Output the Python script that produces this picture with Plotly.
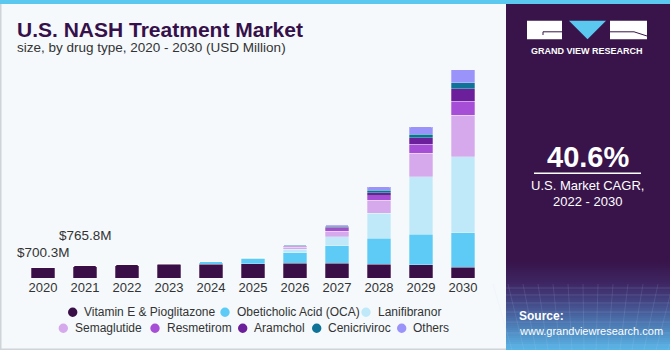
import plotly.graph_objects as go

# ---------------- data ----------------
years = ["2020", "2021", "2022", "2023", "2024", "2025", "2026", "2027", "2028", "2029", "2030"]
vitamin_e = [700.3, 765.8, 830, 880, 875, 910, 935, 940, 890, 830, 680]
oca = [0, 0, 0, 50, 145, 320, 675, 1110, 1655, 1950, 2200]
lanifibranor = [0, 0, 0, 0, 10, 85, 215, 575, 1590, 3670, 4840]
semaglutide = [0, 0, 0, 0, 0, 0, 125, 360, 810, 1490, 2650]
resmetirom = [0, 0, 0, 0, 0, 0, 80, 150, 300, 590, 890]
aramchol = [0, 0, 0, 0, 0, 0, 40, 85, 200, 400, 785]
cenicriviroc = [0, 0, 0, 0, 0, 0, 20, 80, 130, 230, 405]
others = [0, 0, 0, 0, 0, 0, 20, 60, 230, 465, 830]

series_names = ["Vitamin E & Pioglitazone", "Obeticholic Acid (OCA)", "Lanifibranor",
                "Semaglutide", "Resmetirom", "Aramchol", "Cenicriviroc", "Others"]
series_values = [vitamin_e, oca, lanifibranor, semaglutide, resmetirom, aramchol, cenicriviroc, others]
series_colors = ["#3a0f48", "#5ecbf6", "#bfe9f9", "#d5a9eb", "#a64fd6", "#6b1f9b", "#0e7397", "#9a93fa"]

labels = ["$700.3M", "$765.8M"]
label_years = ["2020", "2021"]
label_values = [700.3, 765.8]
cagr_text = "40.6%"

# ---------------- geometry helpers ----------------
W, H = 670, 350
L, R, T, B = 22, 186, 60, 72
PW, PH = W - L - R, H - T - B


def px(x):
    return (x - L) / PW


def py(y):
    return (H - B - y) / PH


fig = go.Figure()
for name, vals, col in zip(series_names, series_values, series_colors):
    fig.add_trace(go.Bar(
        x=years, y=vals, name=name,
        marker=dict(color=col, line=dict(color="rgba(255,255,255,0.45)", width=0.6)),
        showlegend=False,
    ))

shapes = []
annotations = []

# value labels (category axis: use serial index of the category)
for t, yr, v, sh in zip(labels, label_years, label_values, [15, 30]):
    annotations.append(dict(x=years.index(yr), y=v, xref="x", yref="y", text=t, showarrow=False,
                            yanchor="middle", yshift=sh,
                            font=dict(size=13.5, color="#333333")))

# title
annotations.append(dict(x=px(15), y=py(29), xref="paper", yref="paper", xanchor="left", yanchor="middle",
                        text="<b>U.S. NASH Treatment Market</b>", showarrow=False,
                        font=dict(size=21, color="#36104a")))
annotations.append(dict(x=px(15), y=py(47), xref="paper", yref="paper", xanchor="left", yanchor="middle",
                        text="size, by drug type, 2020 - 2030 (USD Million)", showarrow=False,
                        font=dict(size=13.5, color="#333333")))

# manual legend
row1 = [(72.7, 83.3, 312.3), (225, 236, 312.3), (366, 376.7, 312.3)]
row2 = [(63.3, 74.3, 328.3), (155, 165.7, 328.3), (242.7, 253.3, 328.3), (316.7, 326.7, 328.3), (401.7, 412.3, 328.3)]
for (cx, tx, cy), name, col in zip(row1 + row2, series_names, series_colors):
    r = 4.7
    shapes.append(dict(type="circle", xref="paper", yref="paper", x0=px(cx - r), x1=px(cx + r),
                       y0=py(cy + r), y1=py(cy - r), fillcolor=col, line=dict(width=0)))
    annotations.append(dict(x=px(tx - 1), y=py(cy), xref="paper", yref="paper", xanchor="left",
                            yanchor="middle", text=name, showarrow=False,
                            font=dict(size=12, color="#333333")))

# borders / top strip
shapes.append(dict(type="rect", xref="paper", yref="paper", x0=px(0), x1=px(670), y0=py(4), y1=py(0),
                   fillcolor="#5bc8f0", line=dict(width=0), layer="above"))
shapes.append(dict(type="rect", xref="paper", yref="paper", x0=px(0), x1=px(1.5), y0=py(350), y1=py(4),
                   fillcolor="#cfd4d8", line=dict(width=0), layer="above"))
shapes.append(dict(type="rect", xref="paper", yref="paper", x0=px(0), x1=px(506), y0=py(350), y1=py(348.5),
                   fillcolor="#cfd4d8", line=dict(width=0), layer="above"))

# right panel
shapes.append(dict(type="rect", xref="paper", yref="paper", x0=px(506), x1=px(670), y0=py(350), y1=py(4),
                   fillcolor="#38144b", line=dict(width=0), layer="above"))

stops = [(262, (56, 20, 75)), (283, (62, 38, 98)), (300, (66, 66, 128)), (320, (74, 112, 170)),
         (350, (90, 182, 232))]


def col_at(y):
    for (y0, c0), (y1, c1) in zip(stops[:-1], stops[1:]):
        if y0 <= y <= y1:
            f = (y - y0) / (y1 - y0)
            return "rgb(%d,%d,%d)" % tuple(round(a + (b - a) * f) for a, b in zip(c0, c1))
    return "rgb(%d,%d,%d)" % stops[-1][1]


yy = 262
while yy < 350:
    shapes.append(dict(type="rect", xref="paper", yref="paper", x0=px(506), x1=px(670),
                       y0=py(min(yy + 2, 350)), y1=py(yy), fillcolor=col_at(yy + 1),
                       line=dict(width=0), layer="above"))
    yy += 2

# faint grid texture
for gy in [288, 295, 303, 312, 322, 333, 345]:
    shapes.append(dict(type="line", xref="paper", yref="paper", x0=px(506), x1=px(670), y0=py(gy), y1=py(gy),
                       line=dict(color="rgba(200,220,255,0.18)", width=0.8), layer="above"))
for gx in range(512, 670, 12):
    shapes.append(dict(type="line", xref="paper", yref="paper", x0=px(gx), x1=px(gx + (gx - 588) * 0.25),
                       y0=py(350), y1=py(284),
                       line=dict(color="rgba(200,220,255,0.15)", width=0.8), layer="above"))

# logo
shapes.append(dict(type="rect", xref="paper", yref="paper", x0=px(527), x1=px(562), y0=py(39.3), y1=py(20.7),
                   fillcolor="white", line=dict(width=0), layer="above"))
shapes.append(dict(type="line", xref="paper", yref="paper", x0=px(543), x1=px(562), y0=py(31.8), y1=py(31.8),
                   line=dict(color="#38144b", width=1), layer="above"))
shapes.append(dict(type="line", xref="paper", yref="paper", x0=px(543), x1=px(543), y0=py(31.8), y1=py(35),
                   line=dict(color="#38144b", width=1), layer="above"))
tri = "M %f,%f L %f,%f L %f,%f Z" % (px(569), py(20.7), px(606), py(20.7), px(587.5), py(39.3))
shapes.append(dict(type="path", xref="paper", yref="paper", path=tri, fillcolor="#5bc8f0",
                   line=dict(width=0), layer="above"))
shapes.append(dict(type="rect", xref="paper", yref="paper", x0=px(610), x1=px(647), y0=py(39.3), y1=py(20.7),
                   fillcolor="white", line=dict(width=0), layer="above"))
shapes.append(dict(type="line", xref="paper", yref="paper", x0=px(610), x1=px(634), y0=py(31.8), y1=py(31.8),
                   line=dict(color="#38144b", width=1), layer="above"))
shapes.append(dict(type="line", xref="paper", yref="paper", x0=px(634), x1=px(647), y0=py(31.8), y1=py(36),
                   line=dict(color="#38144b", width=1), layer="above"))
annotations.append(dict(x=px(587), y=py(50.7), xref="paper", yref="paper", xanchor="center", yanchor="middle",
                        text="<b>GRAND VIEW RESEARCH</b>", showarrow=False,
                        font=dict(size=9, color="white")))

# CAGR block
annotations.append(dict(x=px(588), y=py(156.5), xref="paper", yref="paper", xanchor="center", yanchor="middle",
                        text="<b>%s</b>" % cagr_text, showarrow=False, font=dict(size=29, color="white")))
shapes.append(dict(type="line", xref="paper", yref="paper", x0=px(534), x1=px(641), y0=py(173.3), y1=py(173.3),
                   line=dict(color="white", width=1.5), layer="above"))
annotations.append(dict(x=px(587), y=py(185.5), xref="paper", yref="paper", xanchor="center", yanchor="middle",
                        text="U.S. Market CAGR,", showarrow=False, font=dict(size=13, color="white")))
annotations.append(dict(x=px(587), y=py(201.5), xref="paper", yref="paper", xanchor="center", yanchor="middle",
                        text="2022 - 2030", showarrow=False, font=dict(size=13, color="white")))
annotations.append(dict(x=px(516.5), y=py(316), xref="paper", yref="paper", xanchor="left", yanchor="middle",
                        text="<b>Source:</b>", showarrow=False, font=dict(size=12, color="white")))
annotations.append(dict(x=px(516.5), y=py(330.5), xref="paper", yref="paper", xanchor="left", yanchor="middle",
                        text="www.grandviewresearch.com", showarrow=False, font=dict(size=11, color="white")))

fig.update_layout(
    width=W, height=H,
    margin=dict(l=L, r=R, t=T, b=B, pad=0),
    barmode="stack", bargap=0.43, barcornerradius=2,
    paper_bgcolor="#f5f9fc", plot_bgcolor="#f5f9fc",
    font=dict(family="Liberation Sans, Arial, sans-serif", color="#333333"),
    xaxis=dict(type="category", range=[-0.5, len(years) - 0.5], showgrid=False, showline=False,
               zeroline=False, ticks="", tickfont=dict(size=13, color="#333333"), fixedrange=True),
    yaxis=dict(range=[0, PH * 63.7], visible=False, showgrid=False, zeroline=False, fixedrange=True),
    showlegend=False,
    shapes=shapes, annotations=annotations,
)

fig.write_html("out.html", config={"displayModeBar": False})
